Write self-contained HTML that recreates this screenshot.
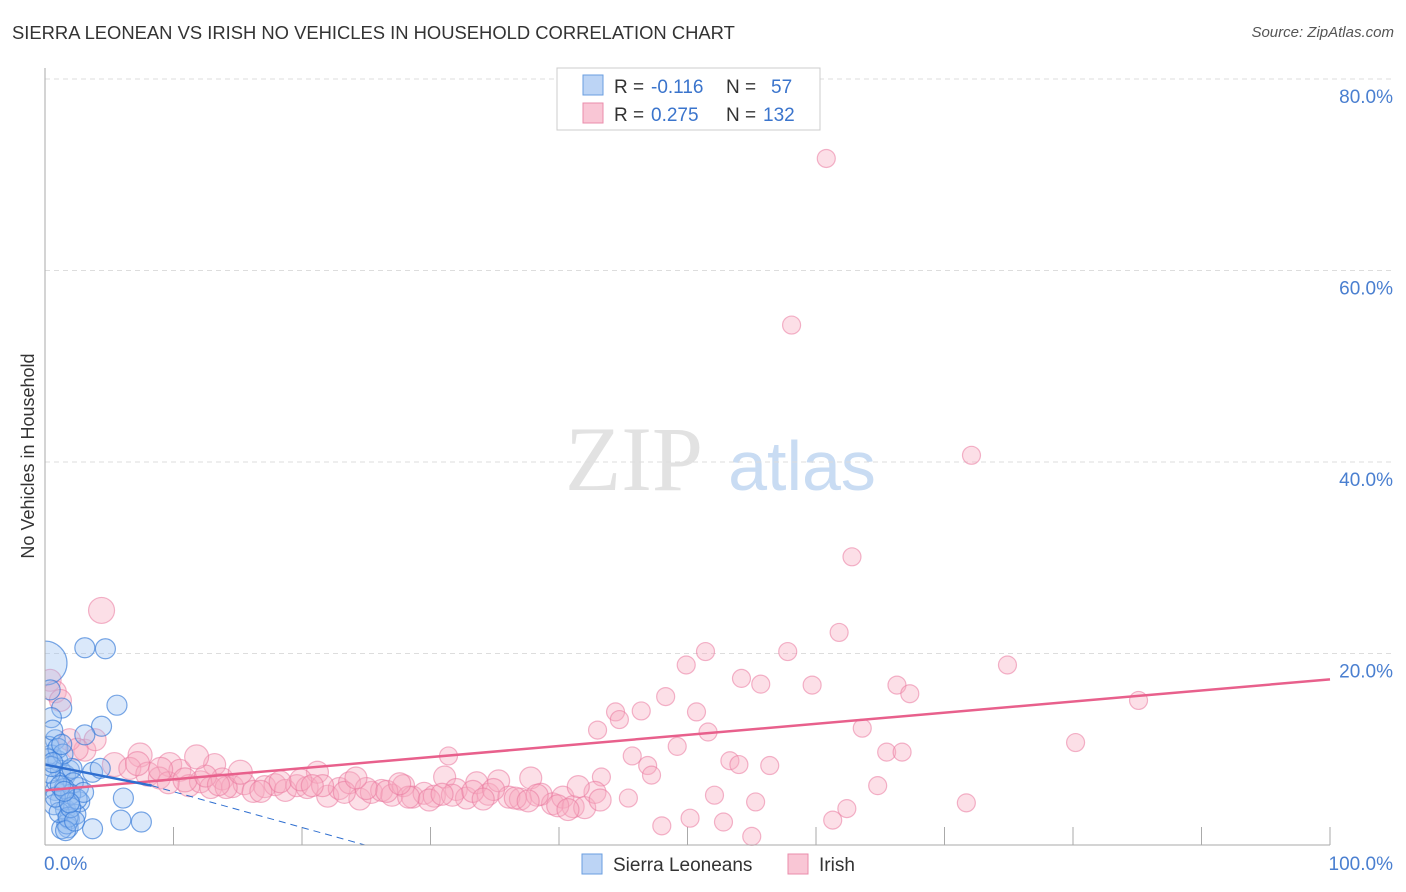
<!DOCTYPE html>
<html><head><meta charset="utf-8"><style>
body{margin:0;background:#fff;font-family:"Liberation Sans",sans-serif;}
#wrap{position:relative;width:1406px;height:892px;overflow:hidden;}
.t{position:absolute;white-space:nowrap;}
</style></head><body>
<div id="wrap">
<div class="t" style="left:12px;top:22px;font-size:18.4px;color:#333;">SIERRA LEONEAN VS IRISH NO VEHICLES IN HOUSEHOLD CORRELATION CHART</div>
<div class="t" style="right:12px;top:24px;font-size:15px;color:#555;font-style:italic;">Source: ZipAtlas.com</div>
<svg id="svg" width="1406" height="892" style="position:absolute;left:0;top:0"><defs><clipPath id="pc"><rect x="45" y="60" width="1360" height="786"/></clipPath></defs></svg>
</div>
<script>
const yTicks=[20,40,60,80];
const yTickLabels=["20.0%","40.0%","60.0%","80.0%"];
const blueX=[0,3.1,4.7,5.6,4.4,3.1,1.3,0.4,0.5,0.8,0.5,1.0,1.2,1.6,1.9,0.8,1.2,1.6,1.9,1.8,3.7,2.1,6.1,5.9,7.5,3.7,2.7,2.6,4.3,1.3,0.3,0.6,1.0,1.4,2.2,2.0,1.5,0.9,0.4,2.4,1.7,0.7,1.1,1.8,2.5,3.0,0.2,0.5,1.3,2.0,1.6,0.8,1.2,2.3,1.9,0.6,1.5];
const blueY=[19,20.6,20.5,14.6,12.4,11.5,14.3,16.2,13.3,11,9.4,8.8,7.8,7.3,7.8,5.7,4.7,3.7,2.7,1.8,7.6,8,4.9,2.6,2.4,1.7,4.5,6,8,1.7,10.3,12,10.1,9.5,6.5,5.3,5.9,6.6,7.5,3.2,2.2,4.2,3.4,2.9,4.8,5.5,9.0,8.2,10.5,3.9,1.5,5.0,6.2,2.5,4.4,8.6,5.6];
const blueR=[22,10,10,10,10,10,10,10,10,10,10,10,10,10,10,10,10,10,10,10,10,10,10,10,10,10,10,10,10,10,10,10,10,10,10,10,10,10,10,10,10,10,10,10,10,10,10,10,10,10,10,10,10,10,10,10,10];
const pinkX=[60.8,58.1,72.1,62.8,61.8,4.4,51.4,57.8,49.9,74.9,54.2,55.7,59.7,66.3,67.3,48.3,85.1,44.4,46.4,50.7,44.7,43.0,51.6,63.6,80.2,49.2,65.5,66.7,45.7,31.4,53.3,54.0,56.4,46.9,47.2,43.3,64.8,52.1,45.4,55.3,62.4,71.7,48.0,50.2,52.8,55.0,61.3,0.4,0.8,1.2,3.1,1.9,3.9,7.4,9.7,13.2,5.4,2.5,6.6,
8.0,8.9,9.6,10.5,11.2,12.1,12.9,13.8,14.6,15.5,16.2,17.1,17.9,18.7,19.6,20.4,21.2,22.0,22.9,23.7,24.5,25.4,26.2,27.0,27.9,28.6,29.5,30.3,31.1,32.0,32.8,33.6,34.5,35.3,36.1,37.0,37.8,38.6,39.5,40.3,41.1,42.0,42.8,7.2,9.0,10.9,12.5,14.1,16.8,18.3,19.9,21.6,23.3,25.0,26.6,28.3,29.9,31.7,33.3,34.9,36.6,38.3,39.9,41.5,43.2,11.8,15.2,20.8,24.2,27.6,30.9,34.1,37.6,40.7,13.5];
const pinkY=[71.7,54.3,40.7,30.1,22.2,24.5,20.2,20.2,18.8,18.8,17.4,16.8,16.7,16.7,15.8,15.5,15.1,13.9,14.0,13.9,13.1,12.0,11.8,12.2,10.7,10.3,9.7,9.7,9.3,9.3,8.8,8.4,8.3,8.3,7.3,7.1,6.2,5.2,4.9,4.5,3.8,4.4,2.0,2.8,2.4,0.9,2.6,17.2,16.0,15.1,9.9,11.0,11.0,9.4,8.4,8.4,8.4,10.0,8.0,
7.4,7.0,6.5,7.8,6.2,6.6,6.0,6.9,6.1,6.4,5.6,6.1,6.3,5.7,6.2,6.0,7.6,5.1,5.9,6.5,4.8,5.5,5.7,5.2,6.2,5.0,5.4,5.1,7.1,5.8,4.9,6.5,5.3,6.7,5.0,4.8,7.0,5.3,4.3,5.0,4.0,3.9,5.5,8.5,7.9,6.8,7.2,6.0,5.6,6.6,6.8,6.2,5.5,5.9,5.6,5.0,4.7,5.2,5.6,5.8,4.9,5.2,4.1,6.1,4.7,9.2,7.6,6.2,7.0,6.4,5.3,4.8,4.6,3.7,6.3];
const pinkR=[9,9,9,9,9,13,9,9,9,9,9,9,9,9,9,9,9,9,9,9,9,9,9,9,9,9,9,9,9,9,9,9,9,9,9,9,9,9,9,9,9,9,9,9,9,9,9,11,11,11,11,11,11,12,12,11,12,11,11,
12,11,11,11,11,11,11,11,11,11,11,11,11,11,11,11,11,11,11,11,11,11,11,11,11,11,11,11,11,11,11,11,11,11,11,11,11,11,11,11,11,11,11,12,12,12,11,11,11,11,11,11,11,11,11,11,11,11,11,11,11,11,11,11,11,12,12,11,11,11,11,11,11,11,11];
const pinkTrend=[5.7,17.3];
const blueTrend=[8.4,6.2,0];
const X0=45,X1=1330,Y0=845,Y80=79;
const sx=v=>X0+(X1-X0)*v/100;
const sy=v=>Y0-(Y0-Y80)*v/80;
const svg=document.getElementById('svg');
const NS='http://www.w3.org/2000/svg';
function mk(tag,attrs,name){const e=document.createElementNS(NS,tag);for(const k in attrs)e.setAttribute(k,attrs[k]);


svg.appendChild(e);return e;}
let w=mk('text',{x:634,y:490,'font-size':92,'font-family':'Liberation Serif,serif',fill:'#e2e2e2','text-anchor':'middle'},'watermark-zip');w.textContent='ZIP';
w=mk('text',{x:802,y:490,'font-size':70,'font-family':'Liberation Sans,sans-serif',fill:'#c9dcf3','text-anchor':'middle'},'watermark-atlas');w.textContent='atlas';
yTicks.forEach((t,i)=>{mk('line',{x1:X0,x2:1395,y1:sy(t),y2:sy(t),stroke:'#ddd','stroke-dasharray':'5,4'},'gridline');
const l=mk('text',{x:1393,y:sy(t)+24,'font-size':19,fill:'#4a7fd0','text-anchor':'end'},'y-tick-label');l.textContent=yTickLabels[i];});
for(let i=1;i<=10;i++){mk('line',{x1:sx(i*10),x2:sx(i*10),y1:Y0,y2:Y0-18,stroke:'#aaa'},'x-tick');}
let t=mk('text',{x:44,y:870,'font-size':19,fill:'#4a7fd0'},'x-min-label');t.textContent='0.0%';
t=mk('text',{x:1393,y:870,'font-size':19,fill:'#4a7fd0','text-anchor':'end'},'x-max-label');t.textContent='100.0%';
t=mk('text',{x:34,y:456,'font-size':18,fill:'#333','text-anchor':'middle',transform:'rotate(-90 34 456)'},'y-axis-title');t.textContent='No Vehicles in Household';
pinkX.forEach((x,i)=>mk('circle',{cx:sx(x),cy:sy(pinkY[i]),r:pinkR[i],fill:'rgba(246,170,192,0.38)',stroke:'rgba(234,120,158,0.55)','stroke-width':1.2,'clip-path':'url(#pc)'},'irish-point'));
blueX.forEach((x,i)=>mk('circle',{cx:sx(x),cy:sy(blueY[i]),r:blueR[i],fill:'rgba(150,190,240,0.35)',stroke:'rgba(50,120,215,0.65)','stroke-width':1.2,'clip-path':'url(#pc)'},'sierra-leonean-point'));
mk('line',{x1:sx(0),y1:sy(pinkTrend[0]),x2:sx(100),y2:sy(pinkTrend[1]),stroke:'#e8608c','stroke-width':2.5},'irish-trend-line');
mk('line',{x1:sx(0),y1:sy(blueTrend[0]),x2:sx(8.3),y2:sy(blueTrend[1]),stroke:'#2f6fd0','stroke-width':2.5},'sierra-leonean-trend-line');
mk('line',{x1:sx(8.3),y1:sy(blueTrend[1]),x2:sx(24.9),y2:sy(blueTrend[2]),stroke:'#2f6fd0','stroke-width':1,'stroke-dasharray':'7,5'},'sierra-leonean-trend-extension');
mk('line',{x1:X0,x2:X0,y1:68,y2:Y0,stroke:'#aaa'},'y-axis');
mk('line',{x1:X0,x2:X1,y1:Y0,y2:Y0,stroke:'#aaa'},'x-axis');
mk('rect',{x:557,y:68,width:263,height:62,fill:'#fff',stroke:'#ccc'},'legend-box');
mk('rect',{x:583,y:75,width:20,height:20,fill:'#bcd4f5',stroke:'#6a9ee0'},'legend-swatch-blue');
mk('rect',{x:583,y:103,width:20,height:20,fill:'#f9c6d5',stroke:'#ea8cab'},'legend-swatch-pink');
function lt(x,y,s,c,n){const e=mk('text',{x:x,y:y,'font-size':19,fill:c},n);e.textContent=s;}
lt(614,93,'R =','#333','legend-r-label');lt(651,93,'-0.116','#3a74cc','legend-r-blue');lt(726,93,'N =','#333','legend-n-label');lt(771,93,'57','#3a74cc','legend-n-blue');
lt(614,121,'R =','#333','legend-r-label');lt(651,121,'0.275','#3a74cc','legend-r-pink');lt(726,121,'N =','#333','legend-n-label');lt(763,121,'132','#3a74cc','legend-n-pink');
mk('rect',{x:582,y:854,width:20,height:20,fill:'#bcd4f5',stroke:'#6a9ee0'},'bottom-legend-swatch-blue');
lt(613,871,'Sierra Leoneans','#333','bottom-legend-blue');
mk('rect',{x:788,y:854,width:20,height:20,fill:'#f9c6d5',stroke:'#ea8cab'},'bottom-legend-swatch-pink');
lt(819,871,'Irish','#333','bottom-legend-pink');
</script>
</body></html>
